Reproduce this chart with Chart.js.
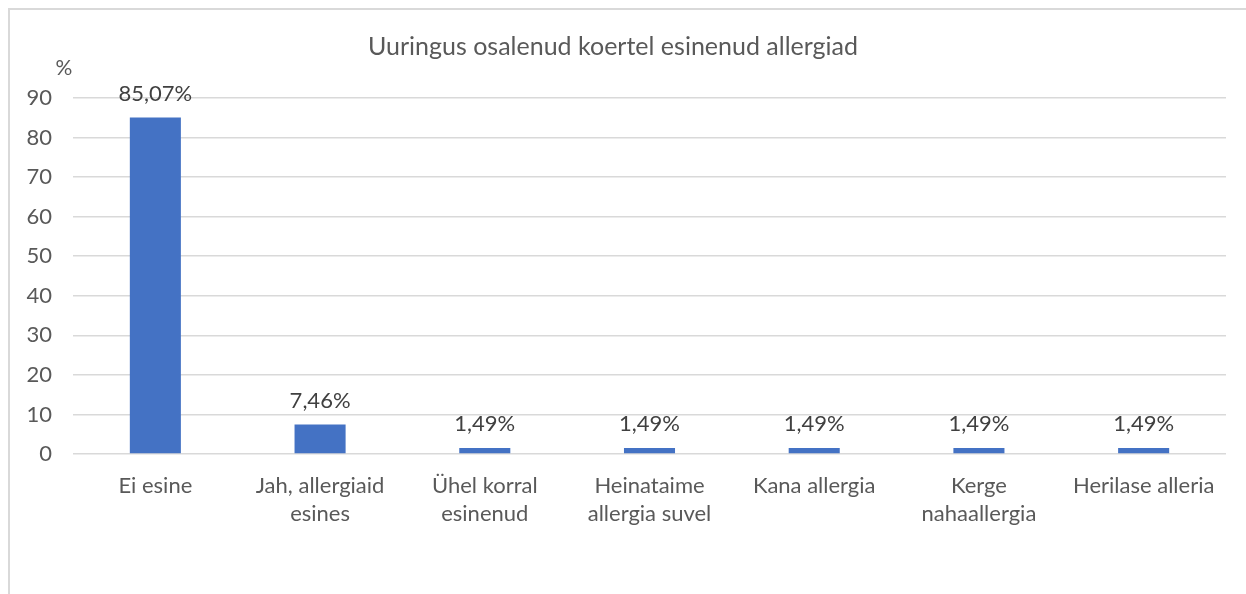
<!DOCTYPE html>
<html>
<head>
<meta charset="utf-8">
<script src="https://cdn.jsdelivr.net/npm/chart.js@4"></script>
<style>
  body { margin: 0; background: #fff; }
  #wrap { position: relative; width: 1246px; height: 594px; overflow: hidden; }
  #frame { position: absolute; left: 8px; top: 8px; width: 1300px; height: 700px;
           border-left: 2px solid #d9d9d9; border-top: 2px solid #d9d9d9; }
  #myChart { position: absolute; left: 0; top: 0; }
</style>
</head>
<body>
<div id="wrap">
  <div id="frame"></div>
  <canvas id="myChart" width="1246" height="594"></canvas>
</div>
<script>
const categories = [
  ["Ei esine"],
  ["Jah, allergiaid", "esines"],
  ["Ühel korral", "esinenud"],
  ["Heinataime", "allergia suvel"],
  ["Kana allergia"],
  ["Kerge", "nahaallergia"],
  ["Herilase alleria"],
];
const percentValues = [85.07, 7.46, 1.49, 1.49, 1.49, 1.49, 1.49];
const yTicks = [0, 10, 20, 30, 40, 50, 60, 70, 80, 90];

const FONT = "Lato, Carlito, 'Liberation Sans', sans-serif";
const TEXT = "#595959";

// value labels over bars + the "%" unit label
const labelsPlugin = {
  id: "barLabels",
  afterDatasetsDraw(chart) {
    const ctx = chart.ctx;
    const meta = chart.getDatasetMeta(0);
    ctx.save();
    ctx.font = "22px " + FONT;
    ctx.fillStyle = "#404040";
    ctx.textAlign = "center";
    ctx.textBaseline = "middle";
    meta.data.forEach((bar, i) => {
      const txt = percentValues[i].toFixed(2).replace(".", ",") + "%";
      ctx.fillText(txt, bar.x, bar.y - 24);
    });
    ctx.fillStyle = TEXT;
    ctx.font = "21px " + FONT;
    ctx.fillText("%", chart.chartArea.left - 9, chart.chartArea.top - 30);
    ctx.restore();
  },
};

const ctx = document.getElementById("myChart").getContext("2d");
new Chart(ctx, {
  type: "bar",
  data: {
    labels: categories,
    datasets: [
      {
        data: percentValues,
        backgroundColor: "#4472C4",
        barPercentage: 0.31,
        categoryPercentage: 1,
      },
    ],
  },
  options: {
    responsive: false,
    animation: false,
    devicePixelRatio: 1,
    layout: { padding: { left: 0, right: 20, top: 0, bottom: 48 } },
    plugins: {
      legend: { display: false },
      tooltip: { enabled: false },
      title: {
        display: true,
        text: "Uuringus osalenud koertel esinenud allergiad",
        color: TEXT,
        font: { family: FONT, size: 25, weight: "normal" },
        padding: { top: 32, bottom: 36 },
      },
    },
    scales: {
      x: {
        grid: { display: false, drawTicks: false },
        border: { display: false },
        ticks: {
          color: TEXT,
          padding: 18,
          maxRotation: 0,
          autoSkip: false,
          font: { family: FONT, size: 22, lineHeight: 28 / 22 },
        },
      },
      y: {
        min: 0,
        max: 90,
        afterFit(scale) { scale.width = 73; },
        afterBuildTicks(scale) { scale.ticks = yTicks.map((v) => ({ value: v })); },
        grid: { color: "#d9d9d9", lineWidth: 1.5, drawTicks: false },
        border: { display: false },
        ticks: {
          color: TEXT,
          padding: 21,
          font: { family: FONT, size: 22 },
        },
      },
    },
  },
  plugins: [labelsPlugin],
});
</script>
</body>
</html>
